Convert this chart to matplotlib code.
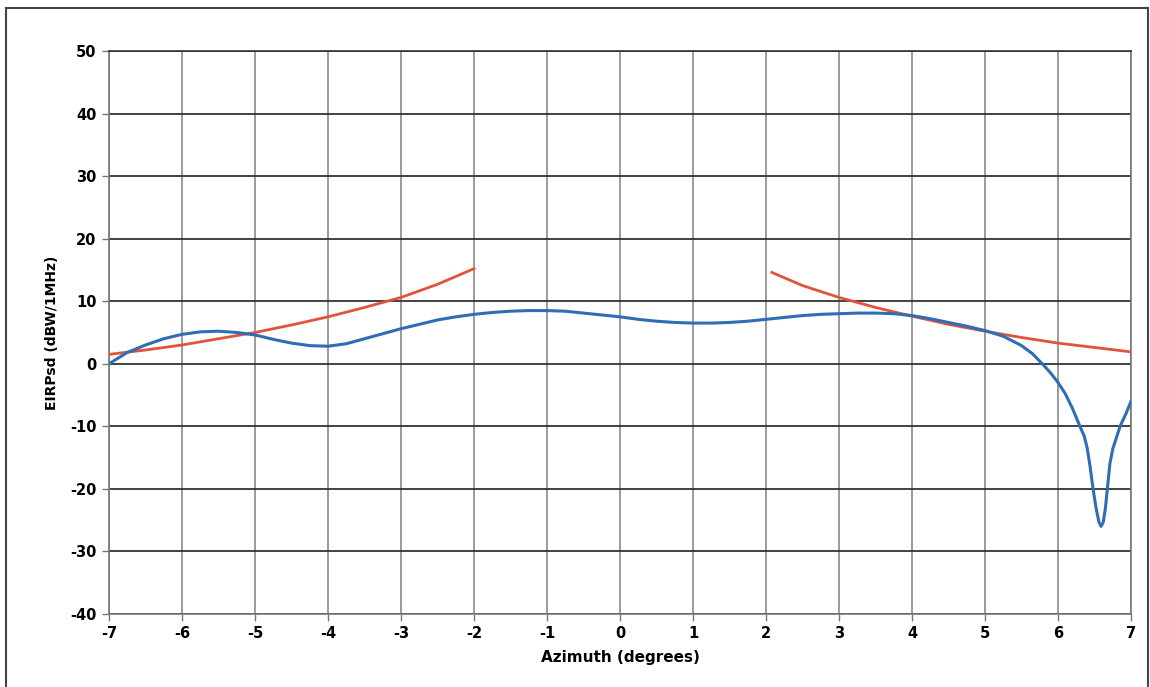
import matplotlib.pyplot as plt
from matplotlib.patches import Rectangle

# --- data ---
blue_x = [-7, -6.75, -6.5, -6.25, -6, -5.75, -5.5, -5.25, -5, -4.75, -4.5, -4.25,
          -4, -3.75, -3.5, -3.25, -3, -2.75, -2.5, -2.25, -2, -1.75, -1.5, -1.25,
          -1, -0.75, -0.5, -0.25, 0, 0.25, 0.5, 0.75, 1, 1.25, 1.5, 1.75, 2, 2.25,
          2.5, 2.75, 3, 3.25, 3.5, 3.75, 4, 4.25, 4.5, 4.75, 5, 5.25, 5.5, 5.65, 5.8,
          5.9, 6, 6.1, 6.2, 6.3, 6.36, 6.4, 6.44, 6.48, 6.52, 6.56, 6.59, 6.62, 6.65,
          6.68, 6.71, 6.75, 6.8, 6.85, 6.93, 7]
blue_y = [0.0, 1.8, 3.0, 4.0, 4.7, 5.1, 5.2, 5.0, 4.6, 3.9, 3.3, 2.9,
          2.8, 3.2, 4.0, 4.8, 5.6, 6.3, 7.0, 7.5, 7.9, 8.2, 8.4, 8.5,
          8.5, 8.4, 8.1, 7.8, 7.5, 7.1, 6.8, 6.6, 6.5, 6.5, 6.6, 6.8, 7.1, 7.4,
          7.7, 7.9, 8.0, 8.1, 8.1, 8.0, 7.7, 7.2, 6.6, 6.0, 5.3, 4.4, 2.9, 1.6, -0.2,
          -1.5, -3.0, -4.8, -7.2, -10.0, -11.6, -13.5, -16.5, -20.0, -23.0, -25.3, -26.0, -25.3, -23.0,
          -19.5, -16.0, -13.6, -11.8, -10.0, -8.0, -6.0]

red_left_x = [-7, -6.5, -6, -5.5, -5, -4.5, -4, -3.5, -3, -2.5, -2]
red_left_y = [1.5, 2.2, 3.0, 4.0, 5.0, 6.2, 7.5, 9.0, 10.6, 12.7, 15.2]
red_right_x = [2.08, 2.5, 3, 3.5, 4, 4.5, 5, 5.5, 6, 6.5, 7]
red_right_y = [14.6, 12.5, 10.6, 9.0, 7.6, 6.3, 5.2, 4.2, 3.3, 2.6, 1.9]

x_ticks = list(range(-7, 8))
y_ticks = list(range(-40, 51, 10))

red = "#e2533d"
blue = "#2f6db5"

fig = plt.figure(figsize=(11.5, 6.87), dpi=100)
ax = fig.add_axes([0.0948, 0.1063, 0.8887, 0.8195])

ax.plot(red_left_x, red_left_y, color=red, lw=2.0, zorder=3)
ax.plot(red_right_x, red_right_y, color=red, lw=2.0, zorder=3)
ax.plot(blue_x, blue_y, color=blue, lw=2.2, zorder=4, solid_joinstyle="round")

ax.set_xlim(-7, 7)
ax.set_ylim(-40, 50)
ax.set_xticks(x_ticks)
ax.set_yticks(y_ticks)
ax.set_xticklabels([str(v) for v in x_ticks], fontweight="bold", fontsize=10.5)
ax.set_yticklabels([str(v) for v in y_ticks], fontweight="bold", fontsize=10.5)
ax.tick_params(length=5, width=1, color="#777777", pad=4)

ax.grid(axis="y", color="#333333", lw=1.3)
ax.grid(axis="x", color="#8a8a8a", lw=1.2)
ax.set_axisbelow(True)
for s in ax.spines.values():
    s.set_color("#777777")
    s.set_linewidth(1.2)
ax.spines["top"].set_color("#333333")

ax.set_xlabel("Azimuth (degrees)", fontweight="bold", fontsize=11, labelpad=6)
ax.set_ylabel("EIRPsd (dBW/1MHz)", fontweight="bold", fontsize=10, labelpad=8)

# outer frame of the scanned chart
fig.patches.append(Rectangle((0.005, -0.01), 0.993, 0.999, transform=fig.transFigure,
                             fill=False, edgecolor="#444444", lw=1.5))

fig.savefig("out.png", dpi=100)
